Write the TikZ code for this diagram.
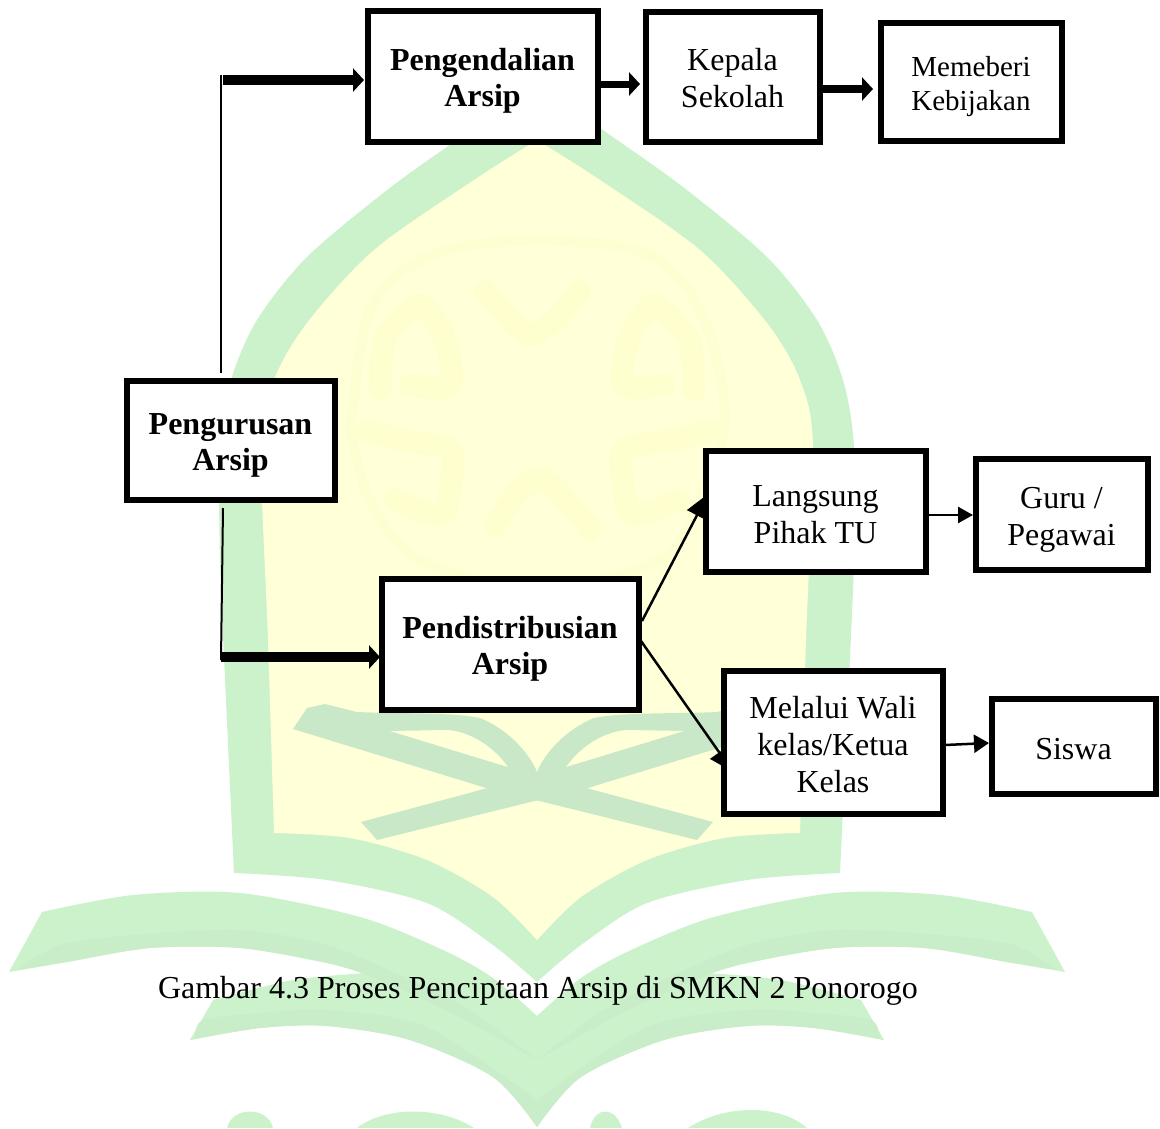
\documentclass[tikz,border=0pt]{standalone}
\usepackage{fontspec}
\setmainfont{Liberation Serif}
\usetikzlibrary{arrows.meta}
\definecolor{wmgreen}{HTML}{CCF2CC}
\definecolor{wmshade}{HTML}{C9EDC9}
\definecolor{wmbook}{HTML}{C8E8C8}
\definecolor{wmyellow}{HTML}{FFFFD8}
\definecolor{wmmotif}{HTML}{FEFECE}
\definecolor{wmring}{HTML}{FEFED3}
\newcommand{\tabtext}[2][5pt]{\raisebox{-#1}[\height][\depth]{\begin{tabular}{@{}c@{}}#2\end{tabular}}}
\tikzset{
  boxn/.style={draw=black,fill=white,line width=6pt,inner sep=0pt,font=\fontsize{32}{37}\selectfont},
  boldn/.style={boxn,font=\fontsize{32}{36.5}\selectfont\bfseries},
  capn/.style={inner sep=0pt,font=\fontsize{32}{37}\selectfont},
  thickarrow/.style={line width=#1,-{Triangle[length=11pt,width=23pt]}},
  thinarrow/.style={line width=2.5pt,-{Triangle[length=24pt,width=22pt]}},
  thinline/.style={line width=2pt},
  motif/.style={draw=wmmotif,line width=22pt,line cap=round,line join=round}
}
\newcommand{\wmwings}{%
  \fill[wmgreen] plot[smooth] coordinates {(9,972)(67,962)(150,948)(240,948)(327,963)(367,975)}
     -- (537,1060) -- (537,1016)
     -- plot[smooth] coordinates {(537,1016)(493,978)(443,950)(360,917)(240,893)(133,895)(42,912)} -- cycle;
  \fill[wmgreen] plot[smooth] coordinates {(213,1000)(293,980)(367,973)}
     -- (537,1016) -- (537,1127)
     -- plot[smooth] coordinates {(537,1127)(493,1077)(410,1040)(327,1026)(260,1028)(190,1040)} -- cycle;
  \fill[wmshade] plot[smooth] coordinates {(17,970)(60,945)(133,935)(240,930)(327,945)(400,975)(470,1010)(537,1060)}
     -- plot[smooth] coordinates {(537,1060)(450,1012)(367,975)(327,963)(240,948)(150,948)(67,962)(17,970)} -- cycle;
  \fill[wmshade] plot[smooth] coordinates {(195,1038)(203,1020)(260,1013)(327,1010)(427,1027)(537,1100)}
     -- (537,1127)
     -- plot[smooth] coordinates {(537,1127)(493,1077)(410,1040)(327,1026)(260,1028)(190,1040)} -- cycle;
  \fill[wmbook] (307,708) -- (293,729) -- (483,787) -- (697,840) -- (713,822) -- (508,767) -- (390,731) -- cycle;
  \fill[wmbook] (307,708) -- (325,704) -- (357,712) .. controls (400,714) and (450,712) .. (480,718)
     .. controls (505,728) and (528,750) .. (537,772) -- (537,797) -- (483,787) -- cycle;
  \fill[wmyellow] (390,731) -- (447,730) .. controls (465,731) and (490,742) .. (508,767) -- cycle;
}
\begin{document}
\begin{tikzpicture}[x=1pt,y=-1pt]
\useasboundingbox (0,0) rectangle (1160,1128);
\fill[white] (0,0) rectangle (1160,1128);
% watermark: arch
\fill[wmgreen] plot[smooth] coordinates {(234,873)(226,700)(220,560)(220,447)(231,380)(257,320)(307,257)(391,187)(474,128)(537,83)}
  -- plot[smooth] coordinates {(537,83)(600,128)(683,187)(767,257)(817,320)(843,380)(854,447)(854,560)(848,700)(840,873)}
  -- plot[smooth] coordinates {(840,873)(747,880)(647,903)(581,945)(537,982)}
  -- plot[smooth] coordinates {(537,982)(493,945)(427,903)(327,880)(234,873)} -- cycle;
\fill[wmyellow] plot[smooth] coordinates {(274,833)(268,640)(261,447)(274,380)(307,323)(374,250)(474,180)(537,140)}
  -- plot[smooth] coordinates {(537,140)(600,180)(700,250)(767,323)(800,380)(813,447)(806,640)(800,833)}
  -- plot[smooth] coordinates {(800,833)(724,838)(647,860)(581,897)(537,940)}
  -- plot[smooth] coordinates {(537,940)(493,897)(427,860)(350,838)(274,833)} -- cycle;
% watermark: faint motif
\draw[motif] plot[smooth] coordinates {(485,290)(510,320)(530,335)(555,320)(580,290)};
\draw[motif] plot[smooth] coordinates {(380,390)(385,340)(420,305)(445,340)(450,385)(410,385)};
\draw[motif] plot[smooth] coordinates {(694,390)(689,340)(654,305)(629,340)(624,385)(664,385)};
\draw[motif] plot[smooth] coordinates {(365,430)(400,440)(450,450)(450,490)(440,515)(395,500)};
\draw[motif] plot[smooth] coordinates {(709,430)(674,440)(624,450)(624,490)(634,515)(679,500)};
\draw[motif] plot[smooth] coordinates {(495,525)(520,490)(545,480)(575,510)(590,530)};
\draw[draw=wmring,line width=10pt] plot[smooth] coordinates {(350,430)(370,310)(430,255)(537,240)(650,255)(705,320)(725,420)(700,500)(660,560)(537,590)(420,560)(370,500)(350,430)};
% watermark: book and wings
\wmwings
\begin{scope}[xscale=-1,xshift=-1074pt]
\wmwings
\end{scope}
% watermark: lower arcs
\fill[wmgreen] (227,1128) .. controls (232,1106) and (268,1106) .. (273,1128) -- cycle;
\fill[wmgreen] (357,1128) .. controls (385,1106) and (440,1106) .. (474,1128) -- cycle;
\fill[wmgreen] (590,1128) .. controls (595,1106) and (615,1106) .. (622,1128) -- cycle;
\fill[wmgreen] (688,1128) .. controls (725,1104) and (780,1104) .. (807,1128) -- cycle;
% junctions
\coordinate (topend) at (221,75);
\coordinate (topstart) at (223,80);
\coordinate (upstart) at (221,373);
\coordinate (downstart) at (223,508);
\coordinate (lowend) at (221,660);
\coordinate (lowstart) at (221,657);
\coordinate (fromdistA) at (642,621);
\coordinate (fromdistB) at (641,641);
\coordinate (toA) at (708,494);
\coordinate (toB) at (733,772);
\coordinate (lowerA) at (928,515);
\coordinate (lowerB) at (973,515);
\coordinate (sisA) at (945,745);
\coordinate (sisB) at (989,743);
\coordinate (pA) at (600,84);
\coordinate (pB) at (640,84);
\coordinate (kA) at (822,89);
\coordinate (kB) at (873,89);
\coordinate (pengW) at (364,80);
\coordinate (distW) at (380,657);
% connectors, under the boxes
\draw[thinline] (upstart) -- (topend);
\draw[thinline] (downstart) -- (lowend);
\draw[thickarrow=10pt] (topstart) -- (pengW);
\draw[thickarrow=10pt] (lowstart) -- (distW);
\draw[thickarrow=7pt] (pA) -- (pB);
\draw[thickarrow=8pt] (kA) -- (kB);
\draw[thinarrow] (fromdistA) -- (toA);
\draw[thinarrow] (fromdistB) -- (toB);
\draw[thinarrow,-{Triangle[length=15pt,width=16pt]}] (lowerA) -- (lowerB);
\draw[thinarrow,-{Triangle[length=15pt,width=18pt]}] (sisA) -- (sisB);
% nodes
\node[boldn,minimum width=230pt,minimum height=131pt] (peng) at (482.5,76) {\tabtext{Pengendalian\\Arsip}};
\node[boxn,minimum width=174pt,minimum height=130pt] (kep) at (732.5,76.5) {\tabtext[5.5pt]{Kepala\\Sekolah}};
\node[boxn,minimum width=181pt,minimum height=118pt,font=\fontsize{29}{34}\selectfont] (mem) at (971,81.5) {\tabtext{Memeberi\\Kebijakan}};
\node[boldn,minimum width=208pt,minimum height=119pt] (uru) at (230.5,440) {\tabtext{Pengurusan\\Arsip}};
\node[boxn,minimum width=220pt,minimum height=121pt] (lang) at (815.5,511) {\tabtext[7pt]{Langsung\\Pihak TU}};
\node[boxn,minimum width=172pt,minimum height=111pt] (guru) at (1061.5,514) {\tabtext[6pt]{Guru /\\Pegawai}};
\node[boldn,minimum width=257pt,minimum height=131pt] (dist) at (510,644) {\tabtext{Pendistribusian\\Arsip}};
\node[boxn,minimum width=219pt,minimum height=143pt] (wali) at (833,742) {\tabtext[6pt]{Melalui Wali\\kelas/Ketua\\Kelas}};
\node[boxn,minimum width=164pt,minimum height=95pt] (sis) at (1073.5,746) {\tabtext[6pt]{Siswa}};
\node[capn,anchor=center] (cap) at (538,991) {Gambar 4.3 Proses Penciptaan Arsip di SMKN 2 Ponorogo};
\end{tikzpicture}
\end{document}
